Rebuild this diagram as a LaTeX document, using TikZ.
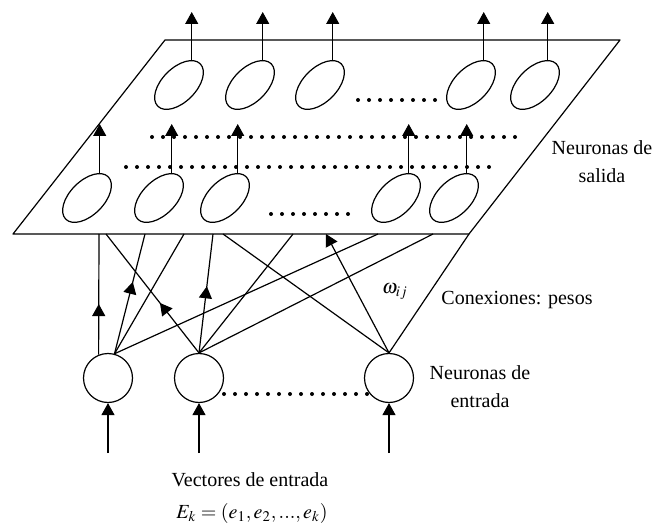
\documentclass[tikz,border=0pt]{standalone}
\usepackage{mathptmx}
\usepackage{fontspec}
\setmainfont{Liberation Serif}
\usetikzlibrary{arrows.meta,calc,decorations.markings,shapes.geometric}

\tikzset{
  every picture/.style={line width=0.6pt, line join=round,
    >={Triangle[length=6pt,width=6.5pt]}},
  every node/.style={font=\fontsize{10}{14}\selectfont},
  % neuronas
  neurona/.style={draw, ellipse, rotate=45, inner sep=0pt,
    minimum width=30pt, minimum height=17pt},
  entrada/.style={draw, circle, inner sep=0pt, minimum size=24.5pt},
  % lineas de puntos
  puntos/.style={line width=2pt, line cap=round, dash pattern=on 0pt off 5.5pt},
  % flecha a mitad de la conexion
  flechamedia/.style={postaction={decorate},
    decoration={markings, mark=at position #1 with {\arrow{Triangle[length=6pt,width=6.5pt]}}}},
  flechamedia/.default=0.5,
  rotulo/.style={align=center, inner sep=0pt},
}

\begin{document}
\begin{tikzpicture}[x=0.5pt, y=-0.5pt]
  \useasboundingbox (0,0) rectangle (658,529);
  % plano de la capa de salida
  \coordinate (p1) at (165,40);
  \coordinate (p2) at (620,40);
  \coordinate (p3) at (469,234);
  \coordinate (p4) at (13,234);
  \draw (p1) -- (p2) -- (p3) -- (p4) -- cycle;
  % neuronas de salida, dos filas
  \foreach \n/\x in {1/179,2/250,3/320,4/471,5/535}
    \node[neurona] (o\n) at (\x,85) {};
  \foreach \n/\x in {1/87,2/159,3/225,4/396,5/454}
    \node[neurona] (h\n) at (\x,198) {};
  \coordinate (tope) at (0,12);
  \coordinate (medio) at (0,124);
  \foreach \n in {1,...,5} {
    \draw[->] (o\n.18) -- (o\n.18 |- tope);
    \draw[->] (h\n.18) -- (h\n.18 |- medio);
  }
  % puntos
  \draw[puntos] (358,100) -- (440,100);
  \draw[puntos] (152,137) -- (516,137);
  \draw[puntos] (126,167) -- (491,167);
  \draw[puntos] (271,214) -- (352,214);
  % neuronas de entrada
  \foreach \n/\x in {1/108,2/199,3/389} {
    \node[entrada] (in\n) at (\x,378) {};
    \coordinate (v\n) at (\x,453);
    \draw[->] (v\n) -- (in\n.south);
  }
  \draw[puntos] (224,394) -- (368,394);
  % conexiones: pesos
  \foreach \n/\x in {1/99,2/106,3/145,4/184,5/213,6/223,7/293,8/326,9/378,10/433}
    \coordinate (b\n) at (\x,234);
  \draw[flechamedia=0.42] (in1.112) -- (b1);
  \draw[flechamedia=0.6] (in1.75) -- (b3);
  \draw (in1.75) -- (b4);
  \draw (in1.75) -- (b9);
  \draw[flechamedia=0.42] (in2.north) -- (b2);
  \draw[flechamedia=0.56] (in2.north) -- (b5);
  \draw (in2.north) -- (b7);
  \draw (in2.north) -- (b10);
  \draw (in3.north) -- (b6);
  \draw[->] (in3.north) -- (b8);
  \draw (in3.north) -- (p3);
  % rotulos
  \node[rotulo] (salida) at (602,162) {Neuronas de\\salida};
  \node[rotulo] (conex) at (517,300) {Conexiones: pesos};
  \node[rotulo] (peso) at (395,292) {$\omega_{ij}$};
  \node[rotulo] (entr) at (480,387) {Neuronas de\\entrada};
  \node[rotulo] (vect) at (250,480) {Vectores de entrada};
  \node[rotulo] (vec) at (252,513) {$E_k=(e_1,e_2,...,e_k)$};
\end{tikzpicture}
\end{document}
